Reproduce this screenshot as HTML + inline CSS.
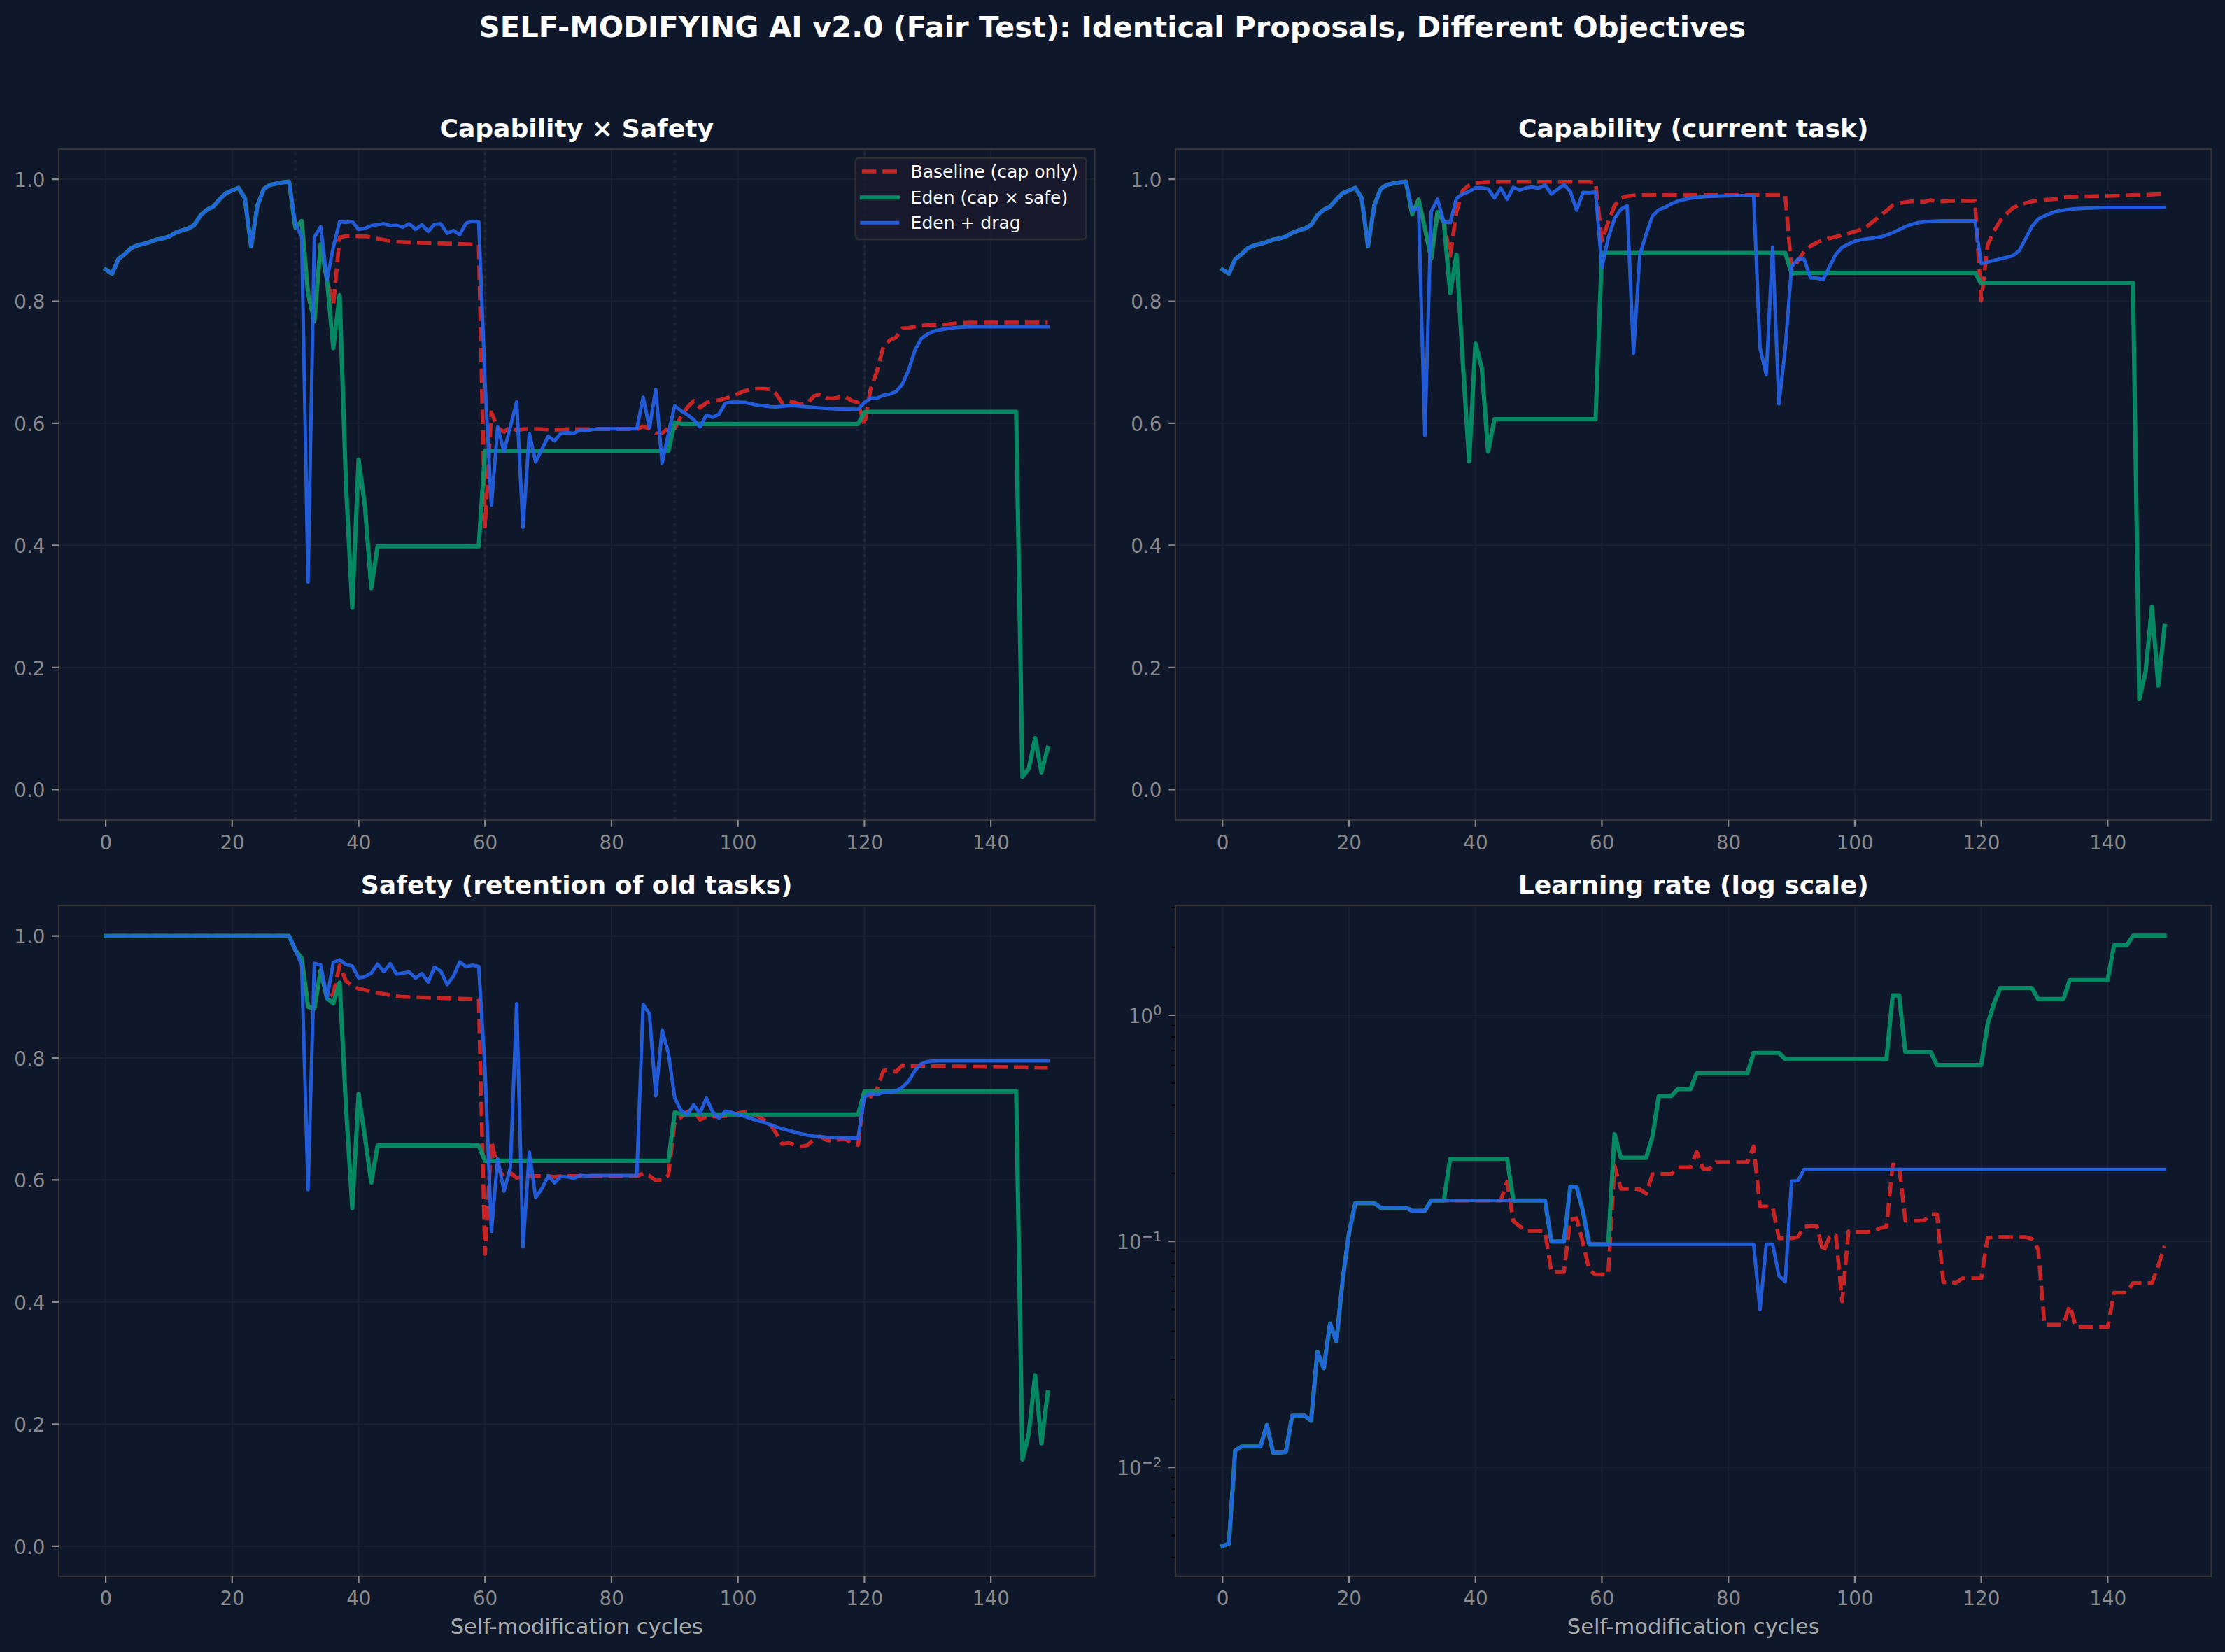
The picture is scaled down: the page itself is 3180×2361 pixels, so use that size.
<!DOCTYPE html>
<html lang="en"><head><meta charset="utf-8"><title>SELF-MODIFYING AI v2.0 (Fair Test)</title>
<style>html,body{margin:0;padding:0;background:#0f172a}svg{display:block}text{font-family:"DejaVu Sans","Liberation Sans",sans-serif}</style></head><body>
<svg width="3180" height="2361" viewBox="0 0 3180 2361">
<rect width="3180" height="2361" fill="#0f172a"/>
<text x="1590" y="52.9" text-anchor="middle" font-size="41.67" font-weight="bold" fill="#ffffff">SELF-MODIFYING AI v2.0 (Fair Test): Identical Proposals, Different Objectives</text>
<g id="ax1">
<clipPath id="clip1"><rect x="84" y="213" width="1480.4" height="959"/></clipPath>
<path d="M151.1 213V1172M331.82 213V1172M512.54 213V1172M693.26 213V1172M873.98 213V1172M1054.7 213V1172M1235.42 213V1172M1416.14 213V1172M84 1128.3H1564.4M84 953.86H1564.4M84 779.42H1564.4M84 604.98H1564.4M84 430.54H1564.4M84 256.1H1564.4" stroke="rgba(176,176,176,0.058)" stroke-width="2.22" fill="none"/>
<path d="M422.18 1172V213M693.26 1172V213M964.34 1172V213M1235.42 1172V213" stroke="rgba(176,176,176,0.075)" stroke-width="4.17" stroke-dasharray="4.17 6.88" fill="none"/>
<g clip-path="url(#clip1)" fill="none" stroke-linejoin="round" stroke-opacity="0.9">
<path d="M151.1 385.19L160.14 391.29L169.17 370.36L178.21 363.38L187.24 354.66L196.28 350.73L205.32 348.55L214.35 345.94L223.39 342.45L232.42 340.7L241.46 338.09L250.5 332.85L259.53 329.36L268.57 326.75L277.6 321.51L286.64 307.56L295.68 299.71L304.71 295.35L313.75 284.88L322.78 276.16L331.82 272.24L340.86 268.31L349.89 283.14L358.93 352.04L367.96 293.6L377 270.06L386.04 263.95L395.07 262.21L404.11 260.46L413.14 259.59L422.18 325.44L431.22 315.85L440.25 419.2L449.29 459.32L458.32 349.43L467.36 400.01L476.4 436.03L485.43 339.31L494.47 337.21L503.5 337.39L512.54 337.74L521.58 337.56L530.61 338.96L539.65 341.23L548.68 342.71L557.72 344.28L566.76 345.41L575.79 345.94L584.83 346.29L593.86 346.63L602.9 346.98L611.94 347.24L620.97 347.59L630.01 347.86L639.04 348.12L648.08 348.47L657.12 348.73L666.15 348.99L675.19 349.25L684.22 349.86L693.26 752.56L702.3 589.28L711.33 611.43L720.37 617.19L729.4 609.78L738.44 615.18L747.48 613.27L756.51 613L765.55 613L774.58 613.27L783.62 613.7L792.66 614.14L801.69 613.7L810.73 613.27L819.76 613.27L828.8 613.27L837.84 613.27L846.87 613.27L855.91 613.27L864.94 613.27L873.98 613.27L883.02 613.27L892.05 613.27L901.09 613.27L910.12 613.7L919.16 609.34L928.2 612.83L937.23 619.28L946.27 618.94L955.3 611.96L964.34 612.83L973.38 595.39L982.41 582.3L991.45 572.97L1000.48 582.74L1009.52 575.67L1018.56 573.14L1027.59 571.84L1036.63 569.66L1045.66 566.17L1054.7 562.68L1063.74 558.75L1072.77 556.4L1081.81 555.53L1090.84 555.53L1099.88 556.14L1108.92 562.42L1117.95 576.02L1126.99 573.32L1136.02 575.33L1145.06 577.94L1154.1 576.2L1163.13 566.17L1172.17 563.46L1181.2 568.96L1190.24 569.48L1199.28 567.65L1208.31 566.95L1217.35 572.71L1226.38 575.5L1235.42 607.95L1244.46 555.26L1253.49 530.23L1262.53 495.43L1271.56 486.36L1280.6 482.26L1289.64 469.18L1298.67 468.66L1307.71 466.74L1316.74 465.43L1325.78 464.73L1334.82 464.29L1343.85 463.95L1352.89 463.42L1361.92 462.64L1370.96 461.85L1380 461.33L1389.03 460.98L1398.07 460.98L1407.1 460.98L1416.14 460.98L1425.18 460.98L1434.21 460.98L1443.25 460.98L1452.28 460.98L1461.32 460.98L1470.36 460.98L1479.39 460.98L1488.43 460.98L1497.46 460.98" stroke="#dc2626" stroke-width="5.56" stroke-dasharray="20.57 8.89" stroke-dashoffset="9.24" stroke-linecap="butt"/>
<path d="M151.1 385.19L160.14 391.29L169.17 370.36L178.21 363.38L187.24 354.66L196.28 350.73L205.32 348.55L214.35 345.94L223.39 342.45L232.42 340.7L241.46 338.09L250.5 332.85L259.53 329.36L268.57 326.75L277.6 321.51L286.64 307.56L295.68 299.71L304.71 295.35L313.75 284.88L322.78 276.16L331.82 272.24L340.86 268.31L349.89 283.14L358.93 352.04L367.96 293.6L377 270.06L386.04 263.95L395.07 262.21L404.11 260.46L413.14 259.59L422.18 325.44L431.22 315.85L440.25 419.2L449.29 459.32L458.32 349.43L467.36 400.01L476.4 497.35L485.43 422.08L494.47 692.2L503.5 868.56L512.54 656.7L521.58 723.6L530.61 840.47L539.65 780.73L548.68 780.73L557.72 780.73L566.76 780.73L575.79 780.73L584.83 780.73L593.86 780.73L602.9 780.73L611.94 780.73L620.97 780.73L630.01 780.73L639.04 780.73L648.08 780.73L657.12 780.73L666.15 780.73L675.19 780.73L684.22 780.73L693.26 644.58L702.3 644.58L711.33 644.58L720.37 644.58L729.4 644.58L738.44 644.58L747.48 644.58L756.51 644.58L765.55 644.58L774.58 644.58L783.62 644.58L792.66 644.58L801.69 644.58L810.73 644.58L819.76 644.58L828.8 644.58L837.84 644.58L846.87 644.58L855.91 644.58L864.94 644.58L873.98 644.58L883.02 644.58L892.05 644.58L901.09 644.58L910.12 644.58L919.16 644.58L928.2 644.58L937.23 644.58L946.27 644.58L955.3 644.58L964.34 603.67L973.38 605.85L982.41 605.85L991.45 605.85L1000.48 605.85L1009.52 605.85L1018.56 605.85L1027.59 605.85L1036.63 605.85L1045.66 605.85L1054.7 605.85L1063.74 605.85L1072.77 605.85L1081.81 605.85L1090.84 605.85L1099.88 605.85L1108.92 605.85L1117.95 605.85L1126.99 605.85L1136.02 605.85L1145.06 605.85L1154.1 605.85L1163.13 605.85L1172.17 605.85L1181.2 605.85L1190.24 605.85L1199.28 605.85L1208.31 605.85L1217.35 605.85L1226.38 605.85L1235.42 589.11L1244.46 588.58L1253.49 588.58L1262.53 588.58L1271.56 588.58L1280.6 588.58L1289.64 588.58L1298.67 588.58L1307.71 588.58L1316.74 588.58L1325.78 588.58L1334.82 588.58L1343.85 588.58L1352.89 588.58L1361.92 588.58L1370.96 588.58L1380 588.58L1389.03 588.58L1398.07 588.58L1407.1 588.58L1416.14 588.58L1425.18 588.58L1434.21 588.58L1443.25 588.58L1452.28 588.58L1461.32 1110.33L1470.36 1098.12L1479.39 1055.04L1488.43 1103.79L1497.46 1068.73" stroke="#059669" stroke-width="6.11" stroke-linecap="square"/>
<path d="M151.1 385.19L160.14 391.29L169.17 370.36L178.21 363.38L187.24 354.66L196.28 350.73L205.32 348.55L214.35 345.94L223.39 342.45L232.42 340.7L241.46 338.09L250.5 332.85L259.53 329.36L268.57 326.75L277.6 321.51L286.64 307.56L295.68 299.71L304.71 295.35L313.75 284.88L322.78 276.16L331.82 272.24L340.86 268.31L349.89 283.14L358.93 352.04L367.96 293.6L377 270.06L386.04 263.95L395.07 262.21L404.11 260.46L413.14 259.59L422.18 320.38L431.22 338.09L440.25 831.75L449.29 338.96L458.32 323.87L467.36 400.01L476.4 353.35L485.43 316.72L494.47 317.85L503.5 316.63L512.54 327.88L521.58 326.31L530.61 322.56L539.65 320.9L548.68 319.51L557.72 322.39L566.76 321.95L575.79 324.65L584.83 319.68L593.86 327.71L602.9 320.99L611.94 330.76L620.97 320.38L630.01 319.86L639.04 333.46L648.08 329.45L657.12 335.3L666.15 318.81L675.19 316.19L684.22 317.15L693.26 546.54L702.3 721.85L711.33 610.21L720.37 645.45L729.4 609.78L738.44 574.28L747.48 753.69L756.51 619.55L765.55 660.1L774.58 641.87L783.62 623.47L792.66 629.92L801.69 619.02L810.73 618.24L819.76 619.37L828.8 614.31L837.84 615.18L846.87 613.7L855.91 612.83L864.94 612.83L873.98 612.83L883.02 612.83L892.05 612.83L901.09 612.83L910.12 612.74L919.16 567.82L928.2 611.26L937.23 556.4L946.27 661.93L955.3 619.46L964.34 579.86L973.38 587.1L982.41 592.59L991.45 599.66L1000.48 610.21L1009.52 593.21L1018.56 596.26L1027.59 591.98L1036.63 576.2L1045.66 574.63L1054.7 574.63L1063.74 575.06L1072.77 576.9L1081.81 578.73L1090.84 579.77L1099.88 580.91L1108.92 581.43L1117.95 580.56L1126.99 579.77L1136.02 579.77L1145.06 580.56L1154.1 581.43L1163.13 582.3L1172.17 583.09L1181.2 583.61L1190.24 584.13L1199.28 584.48L1208.31 584.74L1217.35 584.83L1226.38 584.92L1235.42 575.33L1244.46 569.05L1253.49 569.05L1262.53 564.68L1271.56 563.29L1280.6 559.63L1289.64 549.25L1298.67 528.84L1307.71 500.23L1316.74 483.92L1325.78 477.38L1334.82 473.28L1343.85 471.18L1352.89 469.7L1361.92 468.39L1370.96 467.7L1380 467.35L1389.03 467.09L1398.07 466.91L1407.1 466.91L1416.14 466.91L1425.18 466.91L1434.21 466.91L1443.25 466.91L1452.28 466.91L1461.32 466.91L1470.36 466.91L1479.39 466.91L1488.43 466.91L1497.46 466.91" stroke="#2563eb" stroke-width="5.0" stroke-linecap="square"/>
</g>
<rect x="84" y="213" width="1480.4" height="959" fill="none" stroke="#343434" stroke-width="2.22"/>
<path d="M151.1 1172v9.72M331.82 1172v9.72M512.54 1172v9.72M693.26 1172v9.72M873.98 1172v9.72M1054.7 1172v9.72M1235.42 1172v9.72M1416.14 1172v9.72M84 1128.3h-9.72M84 953.86h-9.72M84 779.42h-9.72M84 604.98h-9.72M84 430.54h-9.72M84 256.1h-9.72" stroke="#8a8a8a" stroke-width="2.22" fill="none"/>
<g font-size="27.78" fill="#8a8a8a">
<g text-anchor="middle">
<text x="151.4" y="1213.6">0</text>
<text x="332.12" y="1213.6">20</text>
<text x="512.84" y="1213.6">40</text>
<text x="693.56" y="1213.6">60</text>
<text x="874.28" y="1213.6">80</text>
<text x="1055" y="1213.6">100</text>
<text x="1235.72" y="1213.6">120</text>
<text x="1416.44" y="1213.6">140</text>
</g><g text-anchor="end">
<text x="64.4" y="1139">0.0</text>
<text x="64.4" y="964.56">0.2</text>
<text x="64.4" y="790.12">0.4</text>
<text x="64.4" y="615.68">0.6</text>
<text x="64.4" y="441.24">0.8</text>
<text x="64.4" y="266.8">1.0</text>
</g></g>
<text x="824.2" y="196.2" text-anchor="middle" font-size="36.11" font-weight="bold" fill="#ffffff">Capability × Safety</text>
</g>
<g id="ax2">
<clipPath id="clip2"><rect x="1680" y="213" width="1480.5" height="959"/></clipPath>
<path d="M1747.3 213V1172M1928.02 213V1172M2108.74 213V1172M2289.46 213V1172M2470.18 213V1172M2650.9 213V1172M2831.62 213V1172M3012.34 213V1172M1680 1128.3H3160.5M1680 953.86H3160.5M1680 779.42H3160.5M1680 604.98H3160.5M1680 430.54H3160.5M1680 256.1H3160.5" stroke="rgba(176,176,176,0.058)" stroke-width="2.22" fill="none"/>
<g clip-path="url(#clip2)" fill="none" stroke-linejoin="round" stroke-opacity="0.9">
<path d="M1747.3 385.19L1756.34 391.29L1765.37 370.36L1774.41 363.38L1783.44 354.66L1792.48 350.73L1801.52 348.55L1810.55 345.94L1819.59 342.45L1828.62 340.7L1837.66 338.09L1846.7 332.85L1855.73 329.36L1864.77 326.75L1873.8 321.51L1882.84 307.56L1891.88 299.71L1900.91 295.35L1909.95 284.88L1918.98 276.16L1928.02 272.24L1937.06 268.31L1946.09 283.14L1955.13 352.04L1964.16 293.6L1973.2 270.06L1982.24 263.95L1991.27 262.21L2000.31 260.46L2009.34 259.59L2018.38 306.16L2027.42 285.14L2036.45 325.88L2045.49 369.49L2054.52 302.76L2063.56 317.33L2072.6 366L2081.63 302.68L2090.67 272.15L2099.7 264.65L2108.74 261.59L2117.78 260.55L2126.81 260.02L2135.85 259.76L2144.88 259.76L2153.92 259.76L2162.96 259.76L2171.99 259.76L2181.03 259.76L2190.06 259.76L2199.1 259.76L2208.14 259.76L2217.17 259.76L2226.21 259.76L2235.24 259.76L2244.28 259.76L2253.32 259.76L2262.35 259.76L2271.39 259.76L2280.42 260.9L2289.46 344.19L2298.5 317.15L2307.53 294.04L2316.57 283.14L2325.6 280.17L2334.64 279.21L2343.68 278.78L2352.71 278.78L2361.75 278.78L2370.78 278.78L2379.82 278.78L2388.86 278.78L2397.89 278.78L2406.93 278.78L2415.96 278.78L2425 278.78L2434.04 278.78L2443.07 278.78L2452.11 278.78L2461.14 278.78L2470.18 278.78L2479.22 278.78L2488.25 278.78L2497.29 278.78L2506.32 278.78L2515.36 278.78L2524.4 278.78L2533.43 278.78L2542.47 278.78L2551.5 278.78L2560.54 386.23L2569.58 373.15L2578.61 359.37L2587.65 351.78L2596.68 346.72L2605.72 343.06L2614.76 340.53L2623.79 338.35L2632.83 335.82L2641.86 333.55L2650.9 331.02L2659.94 328.14L2668.97 323.08L2678.01 315.76L2687.04 308.52L2696.08 301.28L2705.12 293.26L2714.15 290.38L2723.19 288.89L2732.22 287.76L2741.26 287.94L2750.3 288.2L2759.33 286.02L2768.37 287.94L2777.4 287.76L2786.44 287.06L2795.48 287.06L2804.51 287.06L2813.55 287.06L2822.58 287.06L2831.62 429.67L2840.66 350.73L2849.69 330.5L2858.73 315.32L2867.76 305.55L2876.8 297.18L2885.84 292.47L2894.87 290.12L2903.91 287.94L2912.94 286.28L2921.98 285.41L2931.02 284.97L2940.05 284.1L2949.09 282.44L2958.12 281.39L2967.16 280.87L2976.2 280.61L2985.23 280.43L2994.27 280.26L3003.3 280.09L3012.34 279.91L3021.38 279.74L3030.41 279.39L3039.45 279.21L3048.48 278.86L3057.52 278.78L3066.56 278.43L3075.59 278.08L3084.63 277.56L3093.66 277.03" stroke="#dc2626" stroke-width="5.56" stroke-dasharray="20.57 8.89" stroke-dashoffset="27.16" stroke-linecap="butt"/>
<path d="M1747.3 385.19L1756.34 391.29L1765.37 370.36L1774.41 363.38L1783.44 354.66L1792.48 350.73L1801.52 348.55L1810.55 345.94L1819.59 342.45L1828.62 340.7L1837.66 338.09L1846.7 332.85L1855.73 329.36L1864.77 326.75L1873.8 321.51L1882.84 307.56L1891.88 299.71L1900.91 295.35L1909.95 284.88L1918.98 276.16L1928.02 272.24L1937.06 268.31L1946.09 283.14L1955.13 352.04L1964.16 293.6L1973.2 270.06L1982.24 263.95L1991.27 262.21L2000.31 260.46L2009.34 259.59L2018.38 306.16L2027.42 285.14L2036.45 325.88L2045.49 369.49L2054.52 302.76L2063.56 317.33L2072.6 418.77L2081.63 363.9L2090.67 517.76L2099.7 659.32L2108.74 491.07L2117.78 525.78L2126.81 645.54L2135.85 599.14L2144.88 599.14L2153.92 599.14L2162.96 599.14L2171.99 599.14L2181.03 599.14L2190.06 599.14L2199.1 599.14L2208.14 599.14L2217.17 599.14L2226.21 599.14L2235.24 599.14L2244.28 599.14L2253.32 599.14L2262.35 599.14L2271.39 599.14L2280.42 599.14L2289.46 361.64L2298.5 361.64L2307.53 361.64L2316.57 361.64L2325.6 361.64L2334.64 361.64L2343.68 361.64L2352.71 361.64L2361.75 361.64L2370.78 361.64L2379.82 361.64L2388.86 361.64L2397.89 361.64L2406.93 361.64L2415.96 361.64L2425 361.64L2434.04 361.64L2443.07 361.64L2452.11 361.64L2461.14 361.64L2470.18 361.64L2479.22 361.64L2488.25 361.64L2497.29 361.64L2506.32 361.64L2515.36 361.64L2524.4 361.64L2533.43 361.64L2542.47 361.64L2551.5 361.64L2560.54 390.85L2569.58 389.9L2578.61 389.9L2587.65 389.9L2596.68 389.9L2605.72 389.9L2614.76 389.9L2623.79 389.9L2632.83 389.9L2641.86 389.9L2650.9 389.9L2659.94 389.9L2668.97 389.9L2678.01 389.9L2687.04 389.9L2696.08 389.9L2705.12 389.9L2714.15 389.9L2723.19 389.9L2732.22 389.9L2741.26 389.9L2750.3 389.9L2759.33 389.9L2768.37 389.9L2777.4 389.9L2786.44 389.9L2795.48 389.9L2804.51 389.9L2813.55 389.9L2822.58 389.9L2831.62 405.25L2840.66 404.37L2849.69 404.37L2858.73 404.37L2867.76 404.37L2876.8 404.37L2885.84 404.37L2894.87 404.37L2903.91 404.37L2912.94 404.37L2921.98 404.37L2931.02 404.37L2940.05 404.37L2949.09 404.37L2958.12 404.37L2967.16 404.37L2976.2 404.37L2985.23 404.37L2994.27 404.37L3003.3 404.37L3012.34 404.37L3021.38 404.37L3030.41 404.37L3039.45 404.37L3048.48 404.37L3057.52 999.13L3066.56 959.09L3075.59 866.9L3084.63 979.76L3093.66 894.64" stroke="#059669" stroke-width="6.11" stroke-linecap="square"/>
<path d="M1747.3 385.19L1756.34 391.29L1765.37 370.36L1774.41 363.38L1783.44 354.66L1792.48 350.73L1801.52 348.55L1810.55 345.94L1819.59 342.45L1828.62 340.7L1837.66 338.09L1846.7 332.85L1855.73 329.36L1864.77 326.75L1873.8 321.51L1882.84 307.56L1891.88 299.71L1900.91 295.35L1909.95 284.88L1918.98 276.16L1928.02 272.24L1937.06 268.31L1946.09 283.14L1955.13 352.04L1964.16 293.6L1973.2 270.06L1982.24 263.95L1991.27 262.21L2000.31 260.46L2009.34 259.59L2018.38 301.45L2027.42 297.09L2036.45 622.16L2045.49 302.33L2054.52 284.71L2063.56 317.33L2072.6 318.11L2081.63 283.4L2090.67 277.03L2099.7 273.72L2108.74 268.31L2117.78 268.49L2126.81 269.97L2135.85 282.79L2144.88 268.83L2153.92 284.53L2162.96 267.7L2171.99 271.54L2181.03 268.57L2190.06 267.18L2199.1 269.01L2208.14 264.21L2217.17 277.29L2226.21 270.49L2235.24 263.78L2244.28 273.54L2253.32 300.23L2262.35 275.11L2271.39 275.55L2280.42 274.42L2289.46 382.31L2298.5 340.53L2307.53 312.18L2316.57 299.1L2325.6 294.04L2334.64 504.94L2343.68 364.43L2352.71 334.69L2361.75 308.52L2370.78 299.8L2379.82 296.22L2388.86 291.08L2397.89 287.5L2406.93 284.97L2415.96 283.23L2425 282.09L2434.04 281.22L2443.07 280.61L2452.11 280.17L2461.14 279.91L2470.18 279.74L2479.22 279.56L2488.25 279.47L2497.29 279.47L2506.32 279.47L2515.36 497.18L2524.4 535.38L2533.43 353.09L2542.47 577.24L2551.5 498.57L2560.54 381.17L2569.58 370.27L2578.61 370.71L2587.65 397.13L2596.68 397.57L2605.72 399.49L2614.76 381.17L2623.79 363.73L2632.83 353.52L2641.86 348.9L2650.9 344.8L2659.94 342.62L2668.97 341.23L2678.01 340.09L2687.04 338.78L2696.08 336.17L2705.12 332.5L2714.15 328.14L2723.19 323.78L2732.22 320.47L2741.26 318.29L2750.3 316.98L2759.33 316.19L2768.37 315.76L2777.4 315.5L2786.44 315.5L2795.48 315.5L2804.51 315.5L2813.55 315.5L2822.58 315.5L2831.62 376.81L2840.66 374.63L2849.69 372.28L2858.73 370.18L2867.76 367.92L2876.8 365.56L2885.84 358.32L2894.87 341.58L2903.91 323.96L2912.94 313.05L2921.98 308.61L2931.02 304.68L2940.05 301.89L2949.09 300.15L2958.12 299.01L2967.16 298.14L2976.2 297.7L2985.23 297.36L2994.27 297.01L3003.3 296.83L3012.34 296.48L3021.38 296.48L3030.41 296.48L3039.45 296.48L3048.48 296.48L3057.52 296.48L3066.56 296.48L3075.59 296.48L3084.63 296.48L3093.66 296.22" stroke="#2563eb" stroke-width="5.0" stroke-linecap="square"/>
</g>
<rect x="1680" y="213" width="1480.5" height="959" fill="none" stroke="#343434" stroke-width="2.22"/>
<path d="M1747.3 1172v9.72M1928.02 1172v9.72M2108.74 1172v9.72M2289.46 1172v9.72M2470.18 1172v9.72M2650.9 1172v9.72M2831.62 1172v9.72M3012.34 1172v9.72M1680 1128.3h-9.72M1680 953.86h-9.72M1680 779.42h-9.72M1680 604.98h-9.72M1680 430.54h-9.72M1680 256.1h-9.72" stroke="#8a8a8a" stroke-width="2.22" fill="none"/>
<g font-size="27.78" fill="#8a8a8a">
<g text-anchor="middle">
<text x="1747.6" y="1213.6">0</text>
<text x="1928.32" y="1213.6">20</text>
<text x="2109.04" y="1213.6">40</text>
<text x="2289.76" y="1213.6">60</text>
<text x="2470.48" y="1213.6">80</text>
<text x="2651.2" y="1213.6">100</text>
<text x="2831.92" y="1213.6">120</text>
<text x="3012.64" y="1213.6">140</text>
</g><g text-anchor="end">
<text x="1660.4" y="1139">0.0</text>
<text x="1660.4" y="964.56">0.2</text>
<text x="1660.4" y="790.12">0.4</text>
<text x="1660.4" y="615.68">0.6</text>
<text x="1660.4" y="441.24">0.8</text>
<text x="1660.4" y="266.8">1.0</text>
</g></g>
<text x="2420.25" y="196.2" text-anchor="middle" font-size="36.11" font-weight="bold" fill="#ffffff">Capability (current task)</text>
</g>
<g id="ax3">
<clipPath id="clip3"><rect x="84" y="1294" width="1480.4" height="958.8"/></clipPath>
<path d="M151.1 1294V2252.8M331.82 1294V2252.8M512.54 1294V2252.8M693.26 1294V2252.8M873.98 1294V2252.8M1054.7 1294V2252.8M1235.42 1294V2252.8M1416.14 1294V2252.8M84 2209.8H1564.4M84 2035.36H1564.4M84 1860.92H1564.4M84 1686.48H1564.4M84 1512.04H1564.4M84 1337.6H1564.4" stroke="rgba(176,176,176,0.058)" stroke-width="2.22" fill="none"/>
<g clip-path="url(#clip3)" fill="none" stroke-linejoin="round" stroke-opacity="0.9">
<path d="M151.1 1337.6L160.14 1337.6L169.17 1337.6L178.21 1337.6L187.24 1337.6L196.28 1337.6L205.32 1337.6L214.35 1337.6L223.39 1337.6L232.42 1337.6L241.46 1337.6L250.5 1337.6L259.53 1337.6L268.57 1337.6L277.6 1337.6L286.64 1337.6L295.68 1337.6L304.71 1337.6L313.75 1337.6L322.78 1337.6L331.82 1337.6L340.86 1337.6L349.89 1337.6L358.93 1337.6L367.96 1337.6L377 1337.6L386.04 1337.6L395.07 1337.6L404.11 1337.6L413.14 1337.6L422.18 1358.1L431.22 1369.35L440.25 1438.78L449.29 1441.39L458.32 1386.97L467.36 1426.74L476.4 1420.46L485.43 1379.47L494.47 1402.14L503.5 1409.12L512.54 1413.05L521.58 1414.88L530.61 1416.97L539.65 1419.06L548.68 1420.55L557.72 1422.47L566.76 1423.77L575.79 1424.65L584.83 1424.99L593.86 1425.27L602.9 1425.55L611.94 1425.83L620.97 1426.1L630.01 1426.38L639.04 1426.66L648.08 1426.94L657.12 1427.21L666.15 1427.49L675.19 1427.77L684.22 1428.05L693.26 1792.02L702.3 1630.66L711.33 1669.38L720.37 1682.38L729.4 1676.01L738.44 1683.43L747.48 1680.9L756.51 1680.81L765.55 1680.81L774.58 1680.81L783.62 1680.81L792.66 1682.12L801.69 1680.81L810.73 1680.81L819.76 1680.81L828.8 1680.81L837.84 1680.81L846.87 1680.81L855.91 1680.81L864.94 1680.81L873.98 1680.81L883.02 1680.81L892.05 1680.81L901.09 1680.81L910.12 1681.25L919.16 1676.97L928.2 1680.55L937.23 1687.18L946.27 1686.83L955.3 1679.68L964.34 1603.62L973.38 1596.64L982.41 1588.79L991.45 1587.05L1000.48 1600.13L1009.52 1596.21L1018.56 1595.77L1027.59 1595.42L1036.63 1594.99L1045.66 1593.59L1054.7 1590.97L1063.74 1589.14L1072.77 1589.49L1081.81 1594.38L1090.84 1599.96L1099.88 1605.1L1108.92 1618.88L1117.95 1635.02L1126.99 1633.36L1136.02 1636.24L1145.06 1638.6L1154.1 1636.59L1163.13 1628.48L1172.17 1624.12L1181.2 1629.35L1190.24 1630.4L1199.28 1628.48L1208.31 1627.78L1217.35 1633.8L1226.38 1636.33L1235.42 1560.19L1244.46 1567.16L1253.49 1556L1262.53 1530.36L1271.56 1529.05L1280.6 1531.84L1289.64 1522.33L1298.67 1524.25L1307.71 1523.2L1316.74 1523.29L1325.78 1523.55L1334.82 1523.67L1343.85 1523.79L1352.89 1523.91L1361.92 1524.03L1370.96 1524.15L1380 1524.27L1389.03 1524.39L1398.07 1524.51L1407.1 1524.63L1416.14 1524.75L1425.18 1524.87L1434.21 1524.99L1443.25 1525.1L1452.28 1525.22L1461.32 1525.34L1470.36 1525.46L1479.39 1525.58L1488.43 1525.7L1497.46 1525.82" stroke="#dc2626" stroke-width="5.56" stroke-dasharray="20.57 8.89" stroke-dashoffset="20.78" stroke-linecap="butt"/>
<path d="M151.1 1337.6L160.14 1337.6L169.17 1337.6L178.21 1337.6L187.24 1337.6L196.28 1337.6L205.32 1337.6L214.35 1337.6L223.39 1337.6L232.42 1337.6L241.46 1337.6L250.5 1337.6L259.53 1337.6L268.57 1337.6L277.6 1337.6L286.64 1337.6L295.68 1337.6L304.71 1337.6L313.75 1337.6L322.78 1337.6L331.82 1337.6L340.86 1337.6L349.89 1337.6L358.93 1337.6L367.96 1337.6L377 1337.6L386.04 1337.6L395.07 1337.6L404.11 1337.6L413.14 1337.6L422.18 1358.1L431.22 1369.35L440.25 1438.78L449.29 1441.39L458.32 1386.97L467.36 1426.74L476.4 1434.15L485.43 1404.32L494.47 1581.82L503.5 1726.6L512.54 1563.5L521.58 1625.43L530.61 1690.14L539.65 1637.11L548.68 1637.11L557.72 1637.11L566.76 1637.11L575.79 1637.11L584.83 1637.11L593.86 1637.11L602.9 1637.11L611.94 1637.11L620.97 1637.11L630.01 1637.11L639.04 1637.11L648.08 1637.11L657.12 1637.11L666.15 1637.11L675.19 1637.11L684.22 1637.11L693.26 1659.27L702.3 1658.92L711.33 1658.92L720.37 1658.92L729.4 1658.92L738.44 1658.92L747.48 1658.92L756.51 1658.92L765.55 1658.92L774.58 1658.92L783.62 1658.92L792.66 1658.92L801.69 1658.92L810.73 1658.92L819.76 1658.92L828.8 1658.92L837.84 1658.92L846.87 1658.92L855.91 1658.92L864.94 1658.92L873.98 1658.92L883.02 1658.92L892.05 1658.92L901.09 1658.92L910.12 1658.92L919.16 1658.92L928.2 1658.92L937.23 1658.92L946.27 1658.92L955.3 1658.92L964.34 1589.67L973.38 1592.72L982.41 1592.72L991.45 1592.72L1000.48 1592.72L1009.52 1592.72L1018.56 1592.72L1027.59 1592.72L1036.63 1592.72L1045.66 1592.72L1054.7 1592.72L1063.74 1592.72L1072.77 1592.72L1081.81 1592.72L1090.84 1592.72L1099.88 1592.72L1108.92 1592.72L1117.95 1592.72L1126.99 1592.72L1136.02 1592.72L1145.06 1592.72L1154.1 1592.72L1163.13 1592.72L1172.17 1592.72L1181.2 1592.72L1190.24 1592.72L1199.28 1592.72L1208.31 1592.72L1217.35 1592.72L1226.38 1592.72L1235.42 1559.84L1244.46 1559.66L1253.49 1559.66L1262.53 1559.66L1271.56 1559.66L1280.6 1559.66L1289.64 1559.66L1298.67 1559.66L1307.71 1559.66L1316.74 1559.66L1325.78 1559.66L1334.82 1559.66L1343.85 1559.66L1352.89 1559.66L1361.92 1559.66L1370.96 1559.66L1380 1559.66L1389.03 1559.66L1398.07 1559.66L1407.1 1559.66L1416.14 1559.66L1425.18 1559.66L1434.21 1559.66L1443.25 1559.66L1452.28 1559.66L1461.32 2085.95L1470.36 2048.44L1479.39 1965.32L1488.43 2062.66L1497.46 1989.92" stroke="#059669" stroke-width="6.11" stroke-linecap="square"/>
<path d="M151.1 1337.6L160.14 1337.6L169.17 1337.6L178.21 1337.6L187.24 1337.6L196.28 1337.6L205.32 1337.6L214.35 1337.6L223.39 1337.6L232.42 1337.6L241.46 1337.6L250.5 1337.6L259.53 1337.6L268.57 1337.6L277.6 1337.6L286.64 1337.6L295.68 1337.6L304.71 1337.6L313.75 1337.6L322.78 1337.6L331.82 1337.6L340.86 1337.6L349.89 1337.6L358.93 1337.6L367.96 1337.6L377 1337.6L386.04 1337.6L395.07 1337.6L404.11 1337.6L413.14 1337.6L422.18 1358.1L431.22 1379.12L440.25 1700.17L449.29 1376.85L458.32 1379.12L467.36 1426.74L476.4 1375.54L485.43 1371.88L494.47 1378.42L503.5 1380.6L512.54 1397.69L521.58 1395.86L530.61 1390.8L539.65 1377.98L548.68 1388.71L557.72 1377.29L566.76 1392.2L575.79 1390.8L584.83 1389.32L593.86 1398.04L602.9 1391.33L611.94 1403.8L620.97 1382.34L630.01 1387.84L639.04 1407.2L648.08 1395.17L657.12 1374.76L666.15 1381.73L675.19 1379.55L684.22 1381.3L693.26 1529.48L702.3 1759.74L711.33 1656.3L720.37 1702.35L729.4 1669.04L738.44 1434.41L747.48 1782.07L756.51 1646.79L765.55 1711.77L774.58 1698.52L783.62 1680.37L792.66 1690.49L801.69 1681.25L810.73 1681.94L819.76 1684.13L828.8 1679.85L837.84 1680.46L846.87 1679.94L855.91 1679.94L864.94 1679.94L873.98 1679.94L883.02 1679.94L892.05 1679.94L901.09 1679.94L910.12 1679.94L919.16 1435.46L928.2 1449.24L937.23 1566.12L946.27 1471.92L955.3 1505.06L964.34 1569.17L973.38 1587.05L982.41 1592.81L991.45 1578.94L1000.48 1591.32L1009.52 1569.34L1018.56 1589.06L1027.59 1598.21L1036.63 1588.01L1045.66 1589.75L1054.7 1593.15L1063.74 1595.34L1072.77 1598.39L1081.81 1601.27L1090.84 1603.62L1099.88 1606.94L1108.92 1610.34L1117.95 1613.04L1126.99 1615.48L1136.02 1617.93L1145.06 1620.37L1154.1 1622.29L1163.13 1623.77L1172.17 1624.38L1181.2 1625.16L1190.24 1625.69L1199.28 1626.12L1208.31 1626.3L1217.35 1626.56L1226.38 1626.73L1235.42 1567.69L1244.46 1562.71L1253.49 1564.46L1262.53 1560.97L1271.56 1560.88L1280.6 1559.05L1289.64 1553.73L1298.67 1545.1L1307.71 1529.92L1316.74 1520.33L1325.78 1517.19L1334.82 1516.14L1343.85 1515.96L1352.89 1515.96L1361.92 1515.96L1370.96 1515.96L1380 1515.96L1389.03 1515.96L1398.07 1515.96L1407.1 1515.96L1416.14 1515.96L1425.18 1515.96L1434.21 1515.96L1443.25 1515.96L1452.28 1515.96L1461.32 1515.96L1470.36 1515.96L1479.39 1515.96L1488.43 1515.96L1497.46 1515.96" stroke="#2563eb" stroke-width="5.0" stroke-linecap="square"/>
</g>
<rect x="84" y="1294" width="1480.4" height="958.8" fill="none" stroke="#343434" stroke-width="2.22"/>
<path d="M151.1 2252.8v9.72M331.82 2252.8v9.72M512.54 2252.8v9.72M693.26 2252.8v9.72M873.98 2252.8v9.72M1054.7 2252.8v9.72M1235.42 2252.8v9.72M1416.14 2252.8v9.72M84 2209.8h-9.72M84 2035.36h-9.72M84 1860.92h-9.72M84 1686.48h-9.72M84 1512.04h-9.72M84 1337.6h-9.72" stroke="#8a8a8a" stroke-width="2.22" fill="none"/>
<g font-size="27.78" fill="#8a8a8a">
<g text-anchor="middle">
<text x="151.4" y="2294.4">0</text>
<text x="332.12" y="2294.4">20</text>
<text x="512.84" y="2294.4">40</text>
<text x="693.56" y="2294.4">60</text>
<text x="874.28" y="2294.4">80</text>
<text x="1055" y="2294.4">100</text>
<text x="1235.72" y="2294.4">120</text>
<text x="1416.44" y="2294.4">140</text>
</g><g text-anchor="end">
<text x="64.4" y="2220.5">0.0</text>
<text x="64.4" y="2046.06">0.2</text>
<text x="64.4" y="1871.62">0.4</text>
<text x="64.4" y="1697.18">0.6</text>
<text x="64.4" y="1522.74">0.8</text>
<text x="64.4" y="1348.3">1.0</text>
</g></g>
<text x="824.2" y="1277.2" text-anchor="middle" font-size="36.11" font-weight="bold" fill="#ffffff">Safety (retention of old tasks)</text>
<text x="824.2" y="2335" text-anchor="middle" font-size="30.56" fill="#aaaaaa">Self-modification cycles</text>
</g>
<g id="ax4">
<clipPath id="clip4"><rect x="1680" y="1294" width="1480.5" height="958.8"/></clipPath>
<path d="M1747.3 1294V2252.8M1928.02 1294V2252.8M2108.74 1294V2252.8M2289.46 1294V2252.8M2470.18 1294V2252.8M2650.9 1294V2252.8M2831.62 1294V2252.8M3012.34 1294V2252.8M1680 1451H3160.5M1680 1774.1H3160.5M1680 2097.2H3160.5" stroke="rgba(176,176,176,0.058)" stroke-width="2.22" fill="none"/>
<g clip-path="url(#clip4)" fill="none" stroke-linejoin="round" stroke-opacity="0.9">
<path d="M1747.3 2209.56L1756.34 2206.16L1765.37 2073.03L1774.41 2067.24L1783.44 2067.24L1792.48 2067.24L1801.52 2067.24L1810.55 2036.7L1819.59 2076.01L1828.62 2076.01L1837.66 2075.29L1846.7 2023.32L1855.73 2023.32L1864.77 2023.32L1873.8 2030.55L1882.84 1932.11L1891.88 1955.35L1900.91 1891.45L1909.95 1917.22L1918.98 1828.96L1928.02 1762.27L1937.06 1719.56L1946.09 1719.56L1955.13 1719.56L1964.16 1719.56L1973.2 1726.09L1982.24 1726.09L1991.27 1726.09L2000.31 1726.09L2009.34 1726.09L2018.38 1730.44L2027.42 1730.44L2036.45 1730.44L2045.49 1715.72L2054.52 1715.72L2063.56 1715.72L2072.6 1715.72L2081.63 1715.72L2090.67 1715.72L2099.7 1715.72L2108.74 1715.72L2117.78 1715.72L2126.81 1715.72L2135.85 1715.72L2144.88 1715.72L2153.92 1688.84L2162.96 1745.28L2171.99 1752.55L2181.03 1758.95L2190.06 1758.95L2199.1 1758.95L2208.14 1759.84L2217.17 1817.88L2226.21 1817.88L2235.24 1817.88L2244.28 1743.46L2253.32 1741.11L2262.35 1776.22L2271.39 1815.22L2280.42 1821.57L2289.46 1821.57L2298.5 1821.57L2307.53 1666.1L2316.57 1698.98L2325.6 1698.98L2334.64 1698.98L2343.68 1699.89L2352.71 1706.06L2361.75 1678.11L2370.78 1677.75L2379.82 1677.75L2388.86 1677.75L2397.89 1668.33L2406.93 1668.33L2415.96 1668.33L2425 1646.43L2434.04 1670.19L2443.07 1670.53L2452.11 1661.12L2461.14 1661.06L2470.18 1661.06L2479.22 1661.06L2488.25 1661.06L2497.29 1661.06L2506.32 1638.25L2515.36 1724.3L2524.4 1724.3L2533.43 1725.19L2542.47 1769.68L2551.5 1769.68L2560.54 1769.68L2569.58 1767.92L2578.61 1753.39L2587.65 1752.31L2596.68 1752.31L2605.72 1789.67L2614.76 1767.92L2623.79 1765.26L2632.83 1859.79L2641.86 1759.71L2650.9 1760.73L2659.94 1760.73L2668.97 1760.73L2678.01 1759.84L2687.04 1755.22L2696.08 1753.39L2705.12 1664.23L2714.15 1665.33L2723.19 1744.82L2732.22 1744.82L2741.26 1744.82L2750.3 1744.26L2759.33 1735.25L2768.37 1735.25L2777.4 1832.41L2786.44 1833.26L2795.48 1833.26L2804.51 1826.98L2813.55 1826.98L2822.58 1826.98L2831.62 1826.98L2840.66 1769.14L2849.69 1767.92L2858.73 1767.92L2867.76 1767.92L2876.8 1767.92L2885.84 1767.92L2894.87 1767.92L2903.91 1770.77L2912.94 1785.19L2921.98 1893.18L2931.02 1893.18L2940.05 1893.18L2949.09 1893.18L2958.12 1865.86L2967.16 1896.83L2976.2 1896.83L2985.23 1896.83L2994.27 1896.83L3003.3 1896.83L3012.34 1896.83L3021.38 1847.43L3030.41 1847.43L3039.45 1847.43L3048.48 1833.69L3057.52 1833.69L3066.56 1833.69L3075.59 1833.69L3084.63 1808.96L3093.66 1780.71" stroke="#dc2626" stroke-width="5.56" stroke-dasharray="20.57 8.89" stroke-dashoffset="20.44" stroke-linecap="butt"/>
<path d="M1747.3 2209.56L1756.34 2206.16L1765.37 2073.03L1774.41 2067.24L1783.44 2067.24L1792.48 2067.24L1801.52 2067.24L1810.55 2036.7L1819.59 2076.01L1828.62 2076.01L1837.66 2075.29L1846.7 2023.32L1855.73 2023.32L1864.77 2023.32L1873.8 2030.55L1882.84 1932.11L1891.88 1955.35L1900.91 1891.45L1909.95 1917.22L1918.98 1828.96L1928.02 1762.27L1937.06 1719.56L1946.09 1719.56L1955.13 1719.56L1964.16 1719.56L1973.2 1726.09L1982.24 1726.09L1991.27 1726.09L2000.31 1726.09L2009.34 1726.09L2018.38 1730.44L2027.42 1730.44L2036.45 1730.44L2045.49 1715.72L2054.52 1715.72L2063.56 1715.72L2072.6 1656.01L2081.63 1656.01L2090.67 1656.01L2099.7 1656.01L2108.74 1656.01L2117.78 1656.01L2126.81 1656.01L2135.85 1656.01L2144.88 1656.01L2153.92 1656.01L2162.96 1715.72L2171.99 1715.72L2181.03 1715.72L2190.06 1715.72L2199.1 1715.72L2208.14 1715.72L2217.17 1774.38L2226.21 1774.38L2235.24 1774.38L2244.28 1696.3L2253.32 1696.3L2262.35 1730.75L2271.39 1778.37L2280.42 1778.37L2289.46 1778.37L2298.5 1778.37L2307.53 1620.93L2316.57 1654.57L2325.6 1654.57L2334.64 1654.57L2343.68 1654.57L2352.71 1654.57L2361.75 1624.22L2370.78 1566.1L2379.82 1566.1L2388.86 1566.1L2397.89 1556.5L2406.93 1556.5L2415.96 1556.5L2425 1533.97L2434.04 1533.97L2443.07 1533.97L2452.11 1533.97L2461.14 1533.97L2470.18 1533.97L2479.22 1533.97L2488.25 1533.97L2497.29 1533.97L2506.32 1504.75L2515.36 1504.75L2524.4 1504.75L2533.43 1504.75L2542.47 1504.75L2551.5 1513.62L2560.54 1513.62L2569.58 1513.62L2578.61 1513.62L2587.65 1513.62L2596.68 1513.62L2605.72 1513.62L2614.76 1513.62L2623.79 1513.62L2632.83 1513.62L2641.86 1513.62L2650.9 1513.62L2659.94 1513.62L2668.97 1513.62L2678.01 1513.62L2687.04 1513.62L2696.08 1513.62L2705.12 1422.64L2714.15 1422.64L2723.19 1503.43L2732.22 1503.43L2741.26 1503.43L2750.3 1503.43L2759.33 1503.43L2768.37 1522.05L2777.4 1522.05L2786.44 1522.05L2795.48 1522.05L2804.51 1522.05L2813.55 1522.05L2822.58 1522.05L2831.62 1522.05L2840.66 1463.66L2849.69 1434.72L2858.73 1412.04L2867.76 1412.04L2876.8 1412.04L2885.84 1412.04L2894.87 1412.04L2903.91 1412.04L2912.94 1427.89L2921.98 1427.89L2931.02 1427.89L2940.05 1427.89L2949.09 1427.89L2958.12 1400.71L2967.16 1400.71L2976.2 1400.71L2985.23 1400.71L2994.27 1400.71L3003.3 1400.71L3012.34 1400.71L3021.38 1351.16L3030.41 1351.16L3039.45 1351.16L3048.48 1337.33L3057.52 1337.33L3066.56 1337.33L3075.59 1337.33L3084.63 1337.33L3093.66 1337.33" stroke="#059669" stroke-width="6.11" stroke-linecap="square"/>
<path d="M1747.3 2209.56L1756.34 2206.16L1765.37 2073.03L1774.41 2067.24L1783.44 2067.24L1792.48 2067.24L1801.52 2067.24L1810.55 2036.7L1819.59 2076.01L1828.62 2076.01L1837.66 2075.29L1846.7 2023.32L1855.73 2023.32L1864.77 2023.32L1873.8 2030.55L1882.84 1932.11L1891.88 1955.35L1900.91 1891.45L1909.95 1917.22L1918.98 1828.96L1928.02 1762.27L1937.06 1719.56L1946.09 1719.56L1955.13 1719.56L1964.16 1719.56L1973.2 1726.09L1982.24 1726.09L1991.27 1726.09L2000.31 1726.09L2009.34 1726.09L2018.38 1730.44L2027.42 1730.44L2036.45 1730.44L2045.49 1715.72L2054.52 1715.72L2063.56 1715.72L2072.6 1715.72L2081.63 1715.72L2090.67 1715.72L2099.7 1715.72L2108.74 1715.72L2117.78 1715.72L2126.81 1715.72L2135.85 1715.72L2144.88 1715.72L2153.92 1715.72L2162.96 1715.72L2171.99 1715.72L2181.03 1715.72L2190.06 1715.72L2199.1 1715.72L2208.14 1715.72L2217.17 1774.38L2226.21 1774.38L2235.24 1774.38L2244.28 1696.3L2253.32 1696.3L2262.35 1730.75L2271.39 1778.37L2280.42 1778.37L2289.46 1778.37L2298.5 1778.37L2307.53 1778.37L2316.57 1778.37L2325.6 1778.37L2334.64 1778.37L2343.68 1778.37L2352.71 1778.37L2361.75 1778.37L2370.78 1778.37L2379.82 1778.37L2388.86 1778.37L2397.89 1778.37L2406.93 1778.37L2415.96 1778.37L2425 1778.37L2434.04 1778.37L2443.07 1778.37L2452.11 1778.37L2461.14 1778.37L2470.18 1778.37L2479.22 1778.37L2488.25 1778.37L2497.29 1778.37L2506.32 1778.37L2515.36 1871.64L2524.4 1778.23L2533.43 1778.23L2542.47 1823.35L2551.5 1831.77L2560.54 1688L2569.58 1687.47L2578.61 1671.13L2587.65 1671.13L2596.68 1671.13L2605.72 1671.13L2614.76 1671.13L2623.79 1671.13L2632.83 1671.13L2641.86 1671.13L2650.9 1671.13L2659.94 1671.13L2668.97 1671.13L2678.01 1671.13L2687.04 1671.13L2696.08 1671.13L2705.12 1671.13L2714.15 1671.13L2723.19 1671.13L2732.22 1671.13L2741.26 1671.13L2750.3 1671.13L2759.33 1671.13L2768.37 1671.13L2777.4 1671.13L2786.44 1671.13L2795.48 1671.13L2804.51 1671.13L2813.55 1671.13L2822.58 1671.13L2831.62 1671.13L2840.66 1671.13L2849.69 1671.13L2858.73 1671.13L2867.76 1671.13L2876.8 1671.13L2885.84 1671.13L2894.87 1671.13L2903.91 1671.13L2912.94 1671.13L2921.98 1671.13L2931.02 1671.13L2940.05 1671.13L2949.09 1671.13L2958.12 1671.13L2967.16 1671.13L2976.2 1671.13L2985.23 1671.13L2994.27 1671.13L3003.3 1671.13L3012.34 1671.13L3021.38 1671.13L3030.41 1671.13L3039.45 1671.13L3048.48 1671.13L3057.52 1671.13L3066.56 1671.13L3075.59 1671.13L3084.63 1671.13L3093.66 1671.13" stroke="#2563eb" stroke-width="5.0" stroke-linecap="square"/>
</g>
<rect x="1680" y="1294" width="1480.5" height="958.8" fill="none" stroke="#343434" stroke-width="2.22"/>
<path d="M1747.3 2252.8v9.72M1928.02 2252.8v9.72M2108.74 2252.8v9.72M2289.46 2252.8v9.72M2470.18 2252.8v9.72M2650.9 2252.8v9.72M2831.62 2252.8v9.72M3012.34 2252.8v9.72M1680 1451h-9.72M1680 1774.1h-9.72M1680 2097.2h-9.72" stroke="#8a8a8a" stroke-width="2.22" fill="none"/>
<path d="M1680 2225.77h-5.56M1680 2194.46h-5.56M1680 2168.88h-5.56M1680 2147.25h-5.56M1680 2128.51h-5.56M1680 2111.98h-5.56M1680 1999.94h-5.56M1680 1943.04h-5.56M1680 1902.67h-5.56M1680 1871.36h-5.56M1680 1845.78h-5.56M1680 1824.15h-5.56M1680 1805.41h-5.56M1680 1788.88h-5.56M1680 1676.84h-5.56M1680 1619.94h-5.56M1680 1579.57h-5.56M1680 1548.26h-5.56M1680 1522.68h-5.56M1680 1501.05h-5.56M1680 1482.31h-5.56M1680 1465.78h-5.56M1680 1353.74h-5.56M1680 1296.84h-5.56" stroke="#000000" stroke-width="1.9" fill="none"/>
<g font-size="27.78" fill="#8a8a8a">
<g text-anchor="middle">
<text x="1747.6" y="2294.4">0</text>
<text x="1928.32" y="2294.4">20</text>
<text x="2109.04" y="2294.4">40</text>
<text x="2289.76" y="2294.4">60</text>
<text x="2470.48" y="2294.4">80</text>
<text x="2651.2" y="2294.4">100</text>
<text x="2831.92" y="2294.4">120</text>
<text x="3012.64" y="2294.4">140</text>
</g><g text-anchor="end">
<text x="1660.4" y="1462.2">10<tspan dy="-11.6" font-size="19.44">0</tspan></text>
<text x="1660.4" y="1785.3">10<tspan dy="-11.6" font-size="19.44">−1</tspan></text>
<text x="1660.4" y="2108.4">10<tspan dy="-11.6" font-size="19.44">−2</tspan></text>
</g></g>
<text x="2420.25" y="1277.2" text-anchor="middle" font-size="36.11" font-weight="bold" fill="#ffffff">Learning rate (log scale)</text>
<text x="2420.25" y="2335" text-anchor="middle" font-size="30.56" fill="#aaaaaa">Self-modification cycles</text>
</g>
<g id="legend">
<rect x="1222.6" y="225.7" width="330" height="116.4" rx="5.5" ry="5.5" fill="#1a1a2e" fill-opacity="0.8" stroke="#333333" stroke-opacity="0.8" stroke-width="2.78"/>
<g fill="none" stroke-opacity="0.9">
<path d="M1231.8 245H1282.8" stroke="#dc2626" stroke-width="5.56" stroke-dasharray="20.57 8.89"/>
<path d="M1231.8 282.2H1282.8" stroke="#059669" stroke-width="6.11" stroke-linecap="square"/>
<path d="M1231.8 318.2H1282.8" stroke="#2563eb" stroke-width="5.0" stroke-linecap="square"/>
</g>
<g font-size="25" fill="#ffffff">
<text x="1301.6" y="254">Baseline (cap only)</text>
<text x="1301.6" y="290.6">Eden (cap × safe)</text>
<text x="1301.6" y="327.2">Eden + drag</text>
</g></g>
</svg></body></html>
